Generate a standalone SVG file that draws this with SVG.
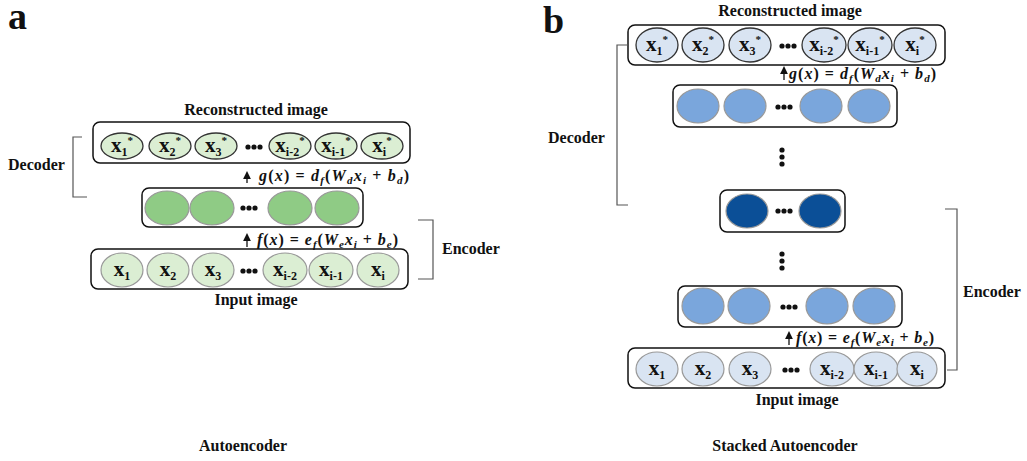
<svg xmlns="http://www.w3.org/2000/svg" width="1027" height="461" viewBox="0 0 1027 461">
<style>
text{font-family:"Liberation Serif","Times New Roman",serif;fill:#111}
.lbl{font-weight:bold;font-size:16px}
.big{font-weight:bold;font-size:38px}
.box{fill:#fff;stroke:#111;stroke-width:1.5}
.lg{fill:#dbeed3;stroke:#999;stroke-width:1.2}
.lgd{fill:#dbeed3;stroke:#333;stroke-width:1.3}
.mg{fill:#8fcb85;stroke:#999;stroke-width:1.2}
.lb{fill:#d9e4f2;stroke:#999;stroke-width:1.2}
.lbd{fill:#d9e4f2;stroke:#333;stroke-width:1.3}
.mb{fill:#7aa6dc;stroke:#999;stroke-width:1.2}
.db{fill:#0b4f97;stroke:#999;stroke-width:1.2}
.x{font-weight:bold;font-size:21px;text-anchor:middle}
.s{font-size:12px}
.sup{font-size:11px}
.dot{fill:#111}
.br{fill:none;stroke:#555;stroke-width:1.2}
.f{font-weight:bold;font-style:italic;font-size:16px}
.fs{font-size:11px}
.up{font-style:normal}
.arr{stroke:#111;stroke-width:1.3}
</style>
<defs>
<g id="h3"><circle cx="-6" cy="0" r="2.6" class="dot"/><circle cx="0" cy="0" r="2.6" class="dot"/><circle cx="6" cy="0" r="2.6" class="dot"/></g>
<g id="v3"><circle cx="0" cy="-7" r="2.6" class="dot"/><circle cx="0" cy="0" r="2.6" class="dot"/><circle cx="0" cy="7" r="2.6" class="dot"/></g>
<marker id="ah" viewBox="0 0 10 10" refX="5" refY="5" markerWidth="6" markerHeight="6" orient="auto"><path d="M0,0 L10,5 L0,10 z" fill="#111"/></marker>
</defs>

<!-- Panel a -->
<text class="big" x="8" y="29">a</text>
<text class="lbl" x="256" y="115" text-anchor="middle">Reconstructed image</text>

<g id="a-output">
<rect class="box" x="93" y="122" width="317" height="41" rx="7"/>
<ellipse class="lgd" cx="122" cy="146" rx="21" ry="13"/>
<ellipse class="lgd" cx="170" cy="146" rx="21" ry="13"/>
<ellipse class="lgd" cx="216" cy="146" rx="21" ry="13"/>
<ellipse class="lgd" cx="290" cy="146" rx="21" ry="13"/>
<ellipse class="lgd" cx="336" cy="146" rx="21" ry="13"/>
<ellipse class="lgd" cx="382" cy="146" rx="21" ry="13"/>
<use href="#h3" x="254" y="147"/>
<text class="x" x="122" y="152">x<tspan class="s" dy="4">1</tspan><tspan class="sup" dy="-12">*</tspan></text>
<text class="x" x="170" y="152">x<tspan class="s" dy="4">2</tspan><tspan class="sup" dy="-12">*</tspan></text>
<text class="x" x="216" y="152">x<tspan class="s" dy="4">3</tspan><tspan class="sup" dy="-12">*</tspan></text>
<text class="x" x="290" y="152">x<tspan class="s" dy="4">i-2</tspan><tspan class="sup" dy="-12">*</tspan></text>
<text class="x" x="336" y="152">x<tspan class="s" dy="4">i-1</tspan><tspan class="sup" dy="-12">*</tspan></text>
<text class="x" x="382" y="152">x<tspan class="s" dy="4">i</tspan><tspan class="sup" dy="-12">*</tspan></text>
</g>

<g id="a-hidden">
<rect class="box" x="142" y="188" width="221" height="39" rx="7"/>
<ellipse class="mg" cx="167" cy="208" rx="22" ry="17"/>
<ellipse class="mg" cx="212" cy="208" rx="22" ry="17"/>
<ellipse class="mg" cx="290" cy="208" rx="22" ry="17"/>
<ellipse class="mg" cx="337" cy="208" rx="22" ry="17"/>
<use href="#h3" x="249" y="208"/>
</g>

<g id="a-input">
<rect class="box" x="91" y="249" width="317" height="40" rx="7"/>
<ellipse class="lg" cx="122" cy="270" rx="21" ry="17"/>
<ellipse class="lg" cx="168" cy="270" rx="21" ry="17"/>
<ellipse class="lg" cx="213" cy="270" rx="21" ry="17"/>
<ellipse class="lg" cx="285" cy="270" rx="22" ry="17"/>
<ellipse class="lg" cx="331" cy="270" rx="22" ry="17"/>
<ellipse class="lg" cx="378" cy="270" rx="21" ry="17"/>
<use href="#h3" x="249" y="271"/>
<text class="x" x="122" y="276">x<tspan class="s" dy="4">1</tspan></text>
<text class="x" x="168" y="276">x<tspan class="s" dy="4">2</tspan></text>
<text class="x" x="213" y="276">x<tspan class="s" dy="4">3</tspan></text>
<text class="x" x="285" y="276">x<tspan class="s" dy="4">i-2</tspan></text>
<text class="x" x="331" y="276">x<tspan class="s" dy="4">i-1</tspan></text>
<text class="x" x="378" y="276">x<tspan class="s" dy="4">i</tspan></text>
</g>
<text class="lbl" x="256" y="305" text-anchor="middle">Input image</text>

<g id="a-labels">
<path class="br" d="M82,137 H73 V197 H87"/>
<text class="lbl" x="8" y="170">Decoder</text>
<path class="br" d="M418,220 H433 V279 H418"/>
<text class="lbl" x="442" y="254">Encoder</text>
</g>

<g id="connectors">
<line class="arr" x1="247" y1="183" x2="247" y2="175" marker-end="url(#ah)"/>
<line class="arr" x1="247" y1="247" x2="247" y2="237" marker-end="url(#ah)"/>
<line class="arr" x1="784" y1="80" x2="784" y2="70" marker-end="url(#ah)"/>
<line class="arr" x1="789" y1="345" x2="789" y2="335" marker-end="url(#ah)"/>
</g>

<text class="f" x="259" y="181" textLength="150" lengthAdjust="spacing">g<tspan class="up">(</tspan>x<tspan class="up">) = </tspan>d<tspan class="fs" dy="3">f</tspan><tspan class="up" dy="-3">(</tspan>W<tspan class="fs" dy="3">d</tspan><tspan dy="-3">x</tspan><tspan class="fs" dy="3">i</tspan><tspan class="up" dy="-3"> + </tspan>b<tspan class="fs" dy="3">d</tspan><tspan class="up" dy="-3">)</tspan></text>
<text class="f" x="257" y="245" textLength="141" lengthAdjust="spacing">f<tspan class="up">(</tspan>x<tspan class="up">) = </tspan>e<tspan class="fs" dy="3">f</tspan><tspan class="up" dy="-3">(</tspan>W<tspan class="fs" dy="3">e</tspan><tspan dy="-3">x</tspan><tspan class="fs" dy="3">i</tspan><tspan class="up" dy="-3"> + </tspan>b<tspan class="fs" dy="3">e</tspan><tspan class="up" dy="-3">)</tspan></text>

<text class="lbl" x="243" y="451" text-anchor="middle">Autoencoder</text>

<!-- Panel b -->
<text class="big" x="543" y="33">b</text>
<text class="lbl" x="790" y="16" text-anchor="middle">Reconstructed image</text>

<g id="b-output">
<rect class="box" x="628" y="25" width="317" height="40" rx="7"/>
<ellipse class="lbd" cx="657" cy="45" rx="21" ry="17"/>
<ellipse class="lbd" cx="703" cy="45" rx="21" ry="17"/>
<ellipse class="lbd" cx="750" cy="45" rx="21" ry="17"/>
<ellipse class="lbd" cx="824" cy="45" rx="22" ry="17"/>
<ellipse class="lbd" cx="870" cy="45" rx="22" ry="17"/>
<ellipse class="lbd" cx="915" cy="45" rx="21" ry="17"/>
<use href="#h3" x="788" y="46"/>
<text class="x" x="657" y="51">x<tspan class="s" dy="4">1</tspan><tspan class="sup" dy="-12">*</tspan></text>
<text class="x" x="703" y="51">x<tspan class="s" dy="4">2</tspan><tspan class="sup" dy="-12">*</tspan></text>
<text class="x" x="750" y="51">x<tspan class="s" dy="4">3</tspan><tspan class="sup" dy="-12">*</tspan></text>
<text class="x" x="824" y="51">x<tspan class="s" dy="4">i-2</tspan><tspan class="sup" dy="-12">*</tspan></text>
<text class="x" x="870" y="51">x<tspan class="s" dy="4">i-1</tspan><tspan class="sup" dy="-12">*</tspan></text>
<text class="x" x="915" y="51">x<tspan class="s" dy="4">i</tspan><tspan class="sup" dy="-12">*</tspan></text>
</g>
<text class="f" x="789" y="79" textLength="147" lengthAdjust="spacing">g<tspan class="up">(</tspan>x<tspan class="up">) = </tspan>d<tspan class="fs" dy="3">f</tspan><tspan class="up" dy="-3">(</tspan>W<tspan class="fs" dy="3">d</tspan><tspan dy="-3">x</tspan><tspan class="fs" dy="3">i</tspan><tspan class="up" dy="-3"> + </tspan>b<tspan class="fs" dy="3">d</tspan><tspan class="up" dy="-3">)</tspan></text>

<g id="b-hidden1">
<rect class="box" x="673" y="85" width="224" height="42" rx="7"/>
<ellipse class="mb" cx="698" cy="106" rx="21" ry="17"/>
<ellipse class="mb" cx="745" cy="106" rx="21" ry="17"/>
<ellipse class="mb" cx="821" cy="106" rx="21" ry="17"/>
<ellipse class="mb" cx="869" cy="106" rx="21" ry="17"/>
<use href="#h3" x="784" y="107"/>
</g>
<use href="#v3" x="782" y="157"/>

<g id="b-code">
<rect class="box" x="720" y="190" width="125" height="42" rx="7"/>
<ellipse class="db" cx="747" cy="211" rx="21" ry="17"/>
<ellipse class="db" cx="820" cy="211" rx="21" ry="17"/>
<use href="#h3" x="784" y="211"/>
</g>
<use href="#v3" x="782" y="261"/>

<g id="b-hidden2">
<rect class="box" x="678" y="286" width="224" height="41" rx="7"/>
<ellipse class="mb" cx="703" cy="306" rx="21" ry="18"/>
<ellipse class="mb" cx="749" cy="306" rx="21" ry="18"/>
<ellipse class="mb" cx="827" cy="306" rx="21" ry="18"/>
<ellipse class="mb" cx="874" cy="306" rx="21" ry="18"/>
<use href="#h3" x="789" y="307"/>
</g>
<text class="f" x="796" y="343" textLength="138" lengthAdjust="spacing">f<tspan class="up">(</tspan>x<tspan class="up">) = </tspan>e<tspan class="fs" dy="3">f</tspan><tspan class="up" dy="-3">(</tspan>W<tspan class="fs" dy="3">e</tspan><tspan dy="-3">x</tspan><tspan class="fs" dy="3">i</tspan><tspan class="up" dy="-3"> + </tspan>b<tspan class="fs" dy="3">e</tspan><tspan class="up" dy="-3">)</tspan></text>

<g id="b-input">
<rect class="box" x="628" y="348" width="317" height="40" rx="7"/>
<ellipse class="lb" cx="657" cy="369" rx="21" ry="17"/>
<ellipse class="lb" cx="703" cy="369" rx="21" ry="17"/>
<ellipse class="lb" cx="750" cy="369" rx="21" ry="17"/>
<ellipse class="lb" cx="832" cy="369" rx="22" ry="17"/>
<ellipse class="lb" cx="876" cy="369" rx="22" ry="17"/>
<ellipse class="lb" cx="917" cy="369" rx="20" ry="17"/>
<use href="#h3" x="791" y="370"/>
<text class="x" x="657" y="375">x<tspan class="s" dy="4">1</tspan></text>
<text class="x" x="703" y="375">x<tspan class="s" dy="4">2</tspan></text>
<text class="x" x="750" y="375">x<tspan class="s" dy="4">3</tspan></text>
<text class="x" x="832" y="375">x<tspan class="s" dy="4">i-2</tspan></text>
<text class="x" x="876" y="375">x<tspan class="s" dy="4">i-1</tspan></text>
<text class="x" x="917" y="375">x<tspan class="s" dy="4">i</tspan></text>
</g>
<text class="lbl" x="797" y="405" text-anchor="middle">Input image</text>

<g id="b-labels">
<path class="br" d="M628,45 H617 V205 H628"/>
<text class="lbl" x="548" y="143">Decoder</text>
<path class="br" d="M945,209 H957 V370 H947"/>
<text class="lbl" x="963" y="297">Encoder</text>
</g>

<text class="lbl" x="785" y="451" text-anchor="middle">Stacked Autoencoder</text>
</svg>
